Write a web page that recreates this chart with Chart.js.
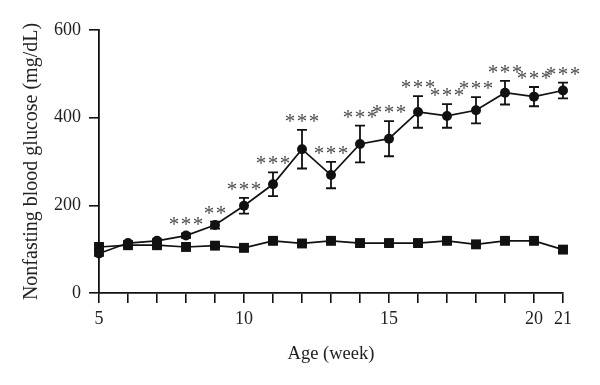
<!DOCTYPE html>
<html>
<head>
<meta charset="utf-8">
<script src="https://cdn.jsdelivr.net/npm/chart.js@4.4.0/dist/chart.umd.min.js"></script>
<style>
  html, body { margin: 0; padding: 0; background: #fff; }
  #wrap { width: 600px; height: 385px; }
</style>
</head>
<body>
<div id="wrap"><canvas id="chart1"></canvas></div>
<script>
/* weeks on the x axis */
let weeks = [5, 6, 7, 8, 9, 10, 11, 12, 13, 14, 15, 16, 17, 18, 19, 20, 21];

/* diabetic group (circles), mean and SEM */
let diabeticMean = [90, 114, 119, 131, 155, 199, 248, 328, 269, 340, 352, 413, 404, 417, 457, 448, 462];
let diabeticSem = [5, 4, 4, 5, 8, 18, 27, 44, 30, 42, 40, 36, 27, 30, 27, 22, 18];

/* control group (squares) */
let controlMean = [105, 109, 109, 105, 108, 103, 119, 113, 119, 114, 114, 114, 119, 111, 119, 119, 99];
let controlSem = [4, 3, 3, 3, 3, 4, 4, 3, 3, 3, 3, 3, 4, 3, 3, 3, 5];

/* significance marks over the diabetic points */
let stars = ['', '', '', '***', '**', '***', '***', '***', '***', '***', '***', '***', '***', '***', '***', '***', '***'];

/* x tick labels that are shown */
let xLabels = [5, 10, 15, 20, 21];
let yTicks = [0, 200, 400, 600];

const fontName = "'Liberation Serif', 'Times New Roman', serif";

/* turn the arrays into {x, y} points */
function toPoints(mean) {
  let pts = [];
  for (let i = 0; i < weeks.length; i++) {
    pts.push({ x: weeks[i], y: mean[i] });
  }
  return pts;
}

/* plugin: error bars under the points and the stars above them */
const errorBars = {
  id: 'errorBars',
  beforeDatasetsDraw(chart) {
    const ctx = chart.ctx;
    const xs = chart.scales.x;
    const ys = chart.scales.y;
    const groups = [[diabeticMean, diabeticSem], [controlMean, controlSem]];
    ctx.save();
    ctx.strokeStyle = '#111';
    ctx.lineWidth = 1.8;
    groups.forEach(function (g) {
      for (let i = 0; i < weeks.length; i++) {
        let px = xs.getPixelForValue(weeks[i]);
        let top = ys.getPixelForValue(g[0][i] + g[1][i]);
        let bot = ys.getPixelForValue(g[0][i] - g[1][i]);
        ctx.beginPath();
        ctx.moveTo(px, top); ctx.lineTo(px, bot);
        ctx.moveTo(px - 5, top); ctx.lineTo(px + 5, top);
        ctx.moveTo(px - 5, bot); ctx.lineTo(px + 5, bot);
        ctx.stroke();
      }
    });
    ctx.restore();
  },
  afterDatasetsDraw(chart) {
    const ctx = chart.ctx;
    const xs = chart.scales.x;
    const ys = chart.scales.y;
    ctx.save();
    ctx.fillStyle = '#4a4a4a';
    ctx.font = "21px " + fontName;
    ctx.textAlign = 'center';
    ctx.textBaseline = 'alphabetic';
    for (let i = 0; i < weeks.length; i++) {
      let s = stars[i];
      if (!s) continue;
      let px = xs.getPixelForValue(weeks[i]);
      let top = ys.getPixelForValue(diabeticMean[i] + diabeticSem[i]);
      let n = s.length;
      for (let k = 0; k < n; k++) {
        let sx = px + (k - (n - 1) / 2) * 12;
        ctx.fillText('*', sx, top - 2);
      }
    }
    ctx.restore();
  }
};

const data = {
  datasets: [
    {
      label: 'Diabetic',
      data: toPoints(diabeticMean),
      borderColor: '#111',
      backgroundColor: '#111',
      borderWidth: 1.7,
      pointStyle: 'circle',
      pointRadius: 5,
      pointBorderWidth: 0,
      clip: false
    },
    {
      label: 'Control',
      data: toPoints(controlMean),
      borderColor: '#111',
      backgroundColor: '#111',
      borderWidth: 1.7,
      pointStyle: 'rect',
      pointRadius: 7,
      pointBorderWidth: 0,
      clip: false
    }
  ]
};

const config = {
  type: 'line',
  data: data,
  options: {
    responsive: true,
    maintainAspectRatio: false,
    animation: false,
    events: [],
    layout: { padding: { left: 20, right: 37, top: 30, bottom: 16 } },
    plugins: { legend: { display: false }, tooltip: { enabled: false } },
    scales: {
      x: {
        type: 'linear',
        min: 5,
        max: 21,
        afterFit: function (scale) { scale.height = 385 - 16 - 293; },
        afterBuildTicks: function (scale) {
          scale.ticks = weeks.map(function (w) { return { value: w }; });
        },
        ticks: {
          autoSkip: false,
          maxRotation: 0,
          padding: 5,
          color: '#222',
          font: { family: fontName, size: 18 },
          callback: function (v) { return xLabels.indexOf(v) >= 0 ? String(v) : ''; }
        },
        grid: { drawOnChartArea: false, tickLength: 10, color: '#111', lineWidth: 1.6 },
        border: { color: '#111', width: 1.8 },
        title: {
          display: true,
          text: 'Age (week)',
          color: '#222',
          font: { family: fontName, size: 18.5 },
          padding: { top: 0, bottom: 4 }
        }
      },
      y: {
        min: 0,
        max: 600,
        afterFit: function (scale) { scale.width = 99 - 20; },
        afterBuildTicks: function (scale) {
          scale.ticks = yTicks.map(function (v) { return { value: v }; });
        },
        ticks: {
          padding: 8,
          color: '#222',
          font: { family: fontName, size: 18 }
        },
        grid: { drawOnChartArea: false, tickLength: 10, color: '#111', lineWidth: 1.6 },
        border: { color: '#111', width: 1.8 },
        title: {
          display: true,
          text: 'Nonfasting blood glucose (mg/dL)',
          color: '#222',
          font: { family: fontName, size: 20 },
          padding: { top: 0, bottom: 0 }
        }
      }
    }
  },
  plugins: [errorBars]
};

const myChart = new Chart(document.getElementById('chart1'), config);
</script>
</body>
</html>
